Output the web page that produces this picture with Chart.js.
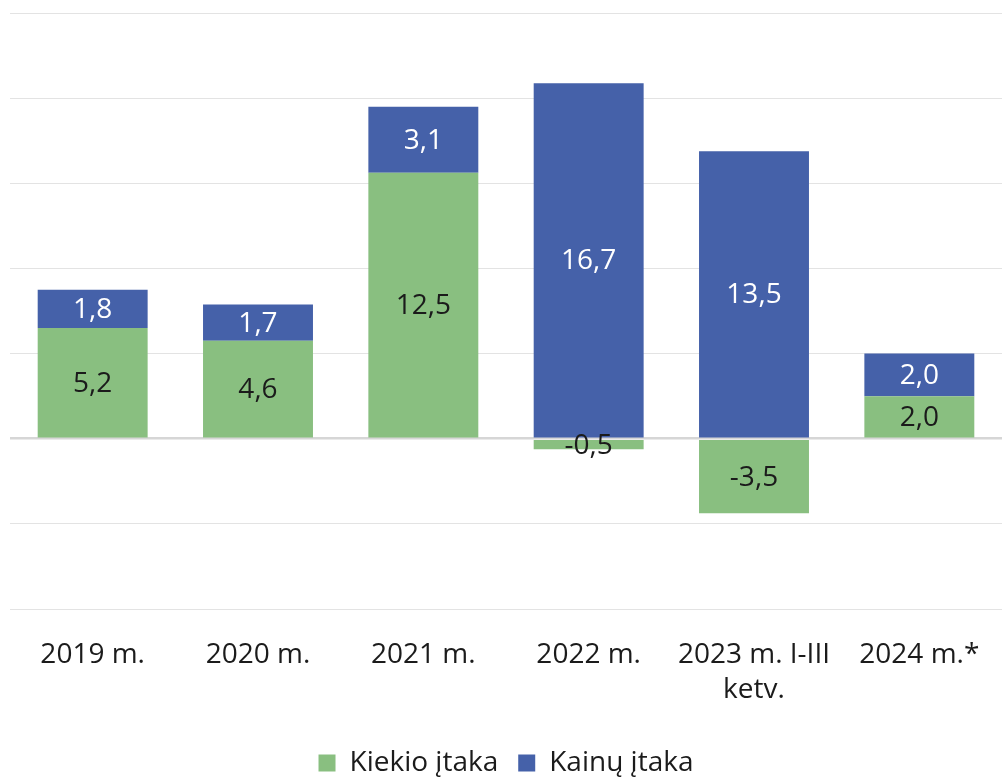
<!DOCTYPE html>
<html lang="lt">
<head>
<meta charset="utf-8">
<title>Kiekio ir kainų įtaka</title>
<script src="https://cdn.jsdelivr.net/npm/chart.js@4"></script>
<style>
  html, body { margin: 0; padding: 0; background: #fff; }
  #wrap { width: 1002px; height: 780px; position: relative; }
</style>
</head>
<body>
<div id="wrap"><canvas id="impactChart"></canvas></div>
<script>
// === Data ===
const categories = ["2019 m.", "2020 m.", "2021 m.", "2022 m.", ["2023 m. I-III", "ketv."], "2024 m.*"];
const volumeImpact = [5.2, 4.6, 12.5, -0.5, -3.5, 2.0];
const priceImpact = [1.8, 1.7, 3.1, 16.7, 13.5, 2.0];
const seriesNames = ["Kiekio įtaka", "Kainų įtaka"];

const FONT = "'Open Sans', 'Liberation Sans', sans-serif";

// draws the value in the middle of every bar segment
const barValueLabels = {
    id: "barValueLabels",
    afterDatasetsDraw(chart) {
        const ctx = chart.ctx;
        ctx.save();
        ctx.font = "28px " + FONT;
        ctx.textAlign = "center";
        ctx.textBaseline = "middle";
        chart.data.datasets.forEach((ds, i) => {
            const meta = chart.getDatasetMeta(i);
            meta.data.forEach((bar, j) => {
                const v = ds.data[j];
                const midY = (bar.y + bar.base) / 2;
                ctx.fillStyle = ds.labelColor;
                ctx.fillText(v.toFixed(1).replace(".", ","), bar.x, midY + 1);
            });
        });
        ctx.restore();
    }
};

new Chart(document.getElementById("impactChart"), {
    type: "bar",
    data: {
        labels: categories,
        datasets: [
            {
                label: seriesNames[0],
                data: volumeImpact,
                backgroundColor: "#89bf80",
                labelColor: "#1b1b1b",
                barPercentage: 0.665,
                categoryPercentage: 1
            },
            {
                label: seriesNames[1],
                data: priceImpact,
                backgroundColor: "#4561a9",
                labelColor: "#ffffff",
                barPercentage: 0.665,
                categoryPercentage: 1
            }
        ]
    },
    options: {
        responsive: true,
        maintainAspectRatio: false,
        animation: false,
        layout: { padding: { left: 10, right: 0, top: 13, bottom: -7 } },
        plugins: {
            legend: {
                position: "bottom",
                labels: {
                    boxWidth: 17,
                    boxHeight: 17,
                    padding: 20,
                    color: "#1b1b1b",
                    font: { family: FONT, size: 28 }
                }
            },
            tooltip: { enabled: false }
        },
        scales: {
            x: {
                stacked: true,
                grid: { display: false },
                border: { display: false },
                ticks: {
                    color: "#1b1b1b",
                    padding: 21,
                    maxRotation: 0,
                    autoSkip: false,
                    font: { family: FONT, size: 28, lineHeight: 1.25 }
                }
            },
            y: {
                stacked: true,
                min: -8,
                max: 20,
                border: { display: false },
                grid: {
                    drawTicks: false,
                    color: c => c.tick && c.tick.value === 0 ? "#d6d6d6" : "#e3e3e3",
                    lineWidth: c => c.tick && c.tick.value === 0 ? 2.5 : 1
                },
                ticks: { display: false, stepSize: 4 }
            }
        }
    },
    plugins: [barValueLabels]
});
</script>
</body>
</html>
